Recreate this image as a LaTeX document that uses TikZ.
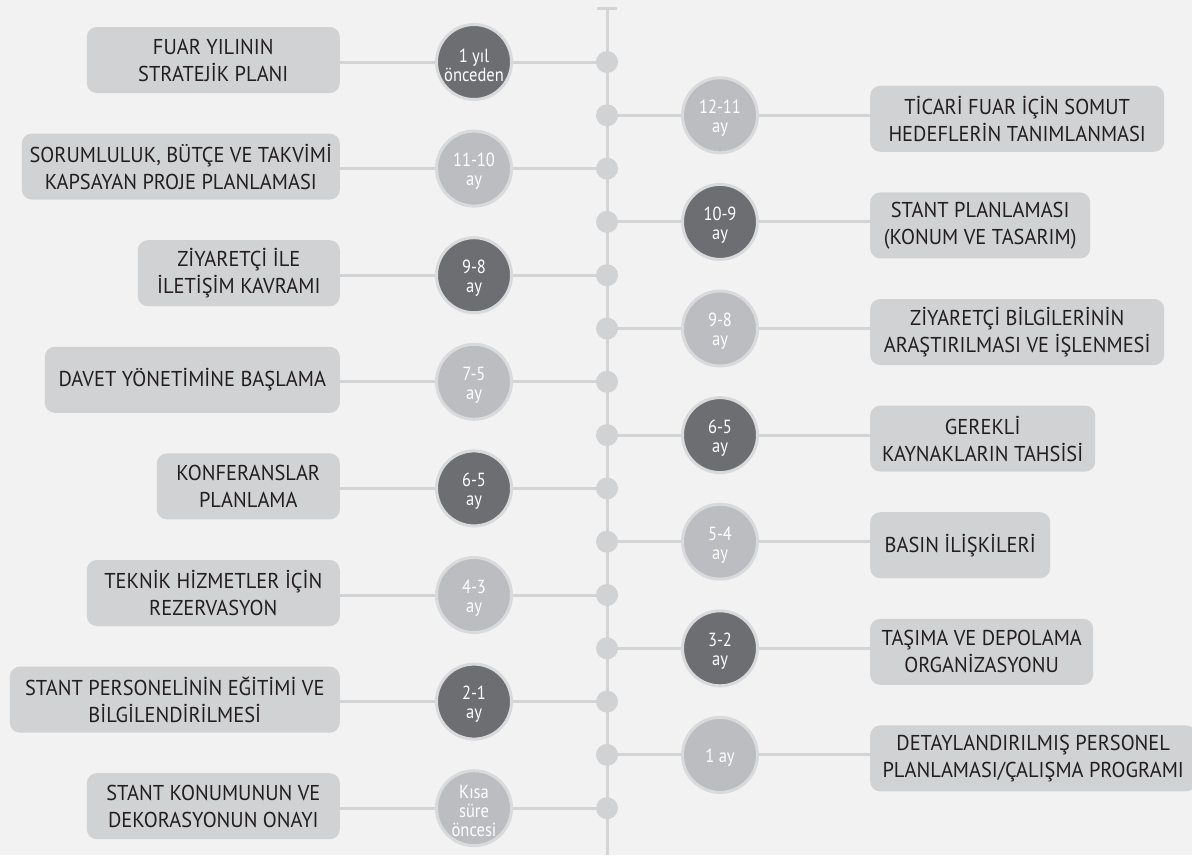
\documentclass[tikz,border=0pt]{standalone}
\usepackage{fontspec}
\setmainfont{PT Sans}[FakeStretch=0.95]
\newfontfamily\circfont{PT Sans}[FakeStretch=0.87]
\definecolor{bgc}{HTML}{F2F2F2}
\definecolor{boxc}{HTML}{D1D2D4}
\definecolor{darkc}{HTML}{6D6E71}
\definecolor{lightc}{HTML}{BCBDC0}
\definecolor{ringc}{HTML}{D9DADB}
\definecolor{linec}{HTML}{D3D4D6}
\definecolor{txtc}{HTML}{231F20}
\pgfdeclarelayer{bg}
\pgfdeclarelayer{lines}
\pgfsetlayers{bg,lines,main}
\tikzset{
  tbox/.style={rectangle, rounded corners=10pt, fill=boxc, minimum height=66pt, align=center,
    text=txtc, font=\fontsize{21.5pt}{27pt}\selectfont, inner sep=0pt},
  lbox/.style={tbox, anchor=east},
  rbox/.style={tbox, anchor=west},
  ctext/.style={align=center, text=white, font=\circfont\fontsize{19pt}{19pt}\selectfont, yshift=-3pt, inner sep=0pt},
  tcirc/.style={circle, draw=ringc, line width=3pt, minimum size=75pt, inner sep=0pt,
    label={[ctext]center:#1}},
  dcirc/.style={tcirc=#1, fill=darkc},
  lcirc/.style={tcirc=#1, fill=lightc},
  tdot/.style={circle, fill=boxc, minimum size=22pt, inner sep=0pt},
  conn/.style={draw=linec, line width=3pt},
}
\begin{document}
\begin{tikzpicture}[x=1pt,y=-1pt]
\begin{pgfonlayer}{bg}
\fill[bgc] (0,0) rectangle (1192,855);
\end{pgfonlayer}
\useasboundingbox (0,0) rectangle (1192,855);
% spine
\coordinate (top) at (607,8);
\coordinate (bot) at (607,855);
\coordinate (tl) at (597,8);
\coordinate (tr) at (617,8);
% left rows
\node[lbox, minimum width=253pt] (b1) at (340,60) {FUAR YILININ\\STRATEJİK PLANI};
\node[dcirc={1 yıl\\önceden}] (c1) at (474,62) {};
\node[tdot] (d1) at (607,62) {};
\node[lbox, minimum width=318pt] (b3) at (340,166.6) {SORUMLULUK, BÜTÇE VE TAKVİMİ\\KAPSAYAN PROJE PLANLAMASI};
\node[lcirc={11-10\\ay}] (c3) at (474,168.6) {};
\node[tdot] (d3) at (607,168.6) {};
\node[lbox, minimum width=202pt] (b5) at (340,273.2) {ZİYARETÇİ İLE\\İLETİŞİM KAVRAMI};
\node[dcirc={9-8\\ay}] (c5) at (474,275.2) {};
\node[tdot] (d5) at (607,275.2) {};
\node[lbox, minimum width=295pt] (b7) at (340,379.8) {DAVET YÖNETİMİNE BAŞLAMA};
\node[lcirc={7-5\\ay}] (c7) at (474,381.8) {};
\node[tdot] (d7) at (607,381.8) {};
\node[lbox, minimum width=183pt] (b9) at (340,486.4) {KONFERANSLAR\\PLANLAMA};
\node[dcirc={6-5\\ay}] (c9) at (474,488.4) {};
\node[tdot] (d9) at (607,488.4) {};
\node[lbox, minimum width=253pt] (b11) at (340,593) {TEKNİK HİZMETLER İÇİN\\REZERVASYON};
\node[lcirc={4-3\\ay}] (c11) at (474,595) {};
\node[tdot] (d11) at (607,595) {};
\node[lbox, minimum width=330pt] (b13) at (340,699.6) {STANT PERSONELİNİN EĞİTİMİ VE\\BİLGİLENDİRİLMESİ};
\node[dcirc={2-1\\ay}] (c13) at (474,701.6) {};
\node[tdot] (d13) at (607,701.6) {};
\node[lbox, minimum width=253pt] (b15) at (340,806.2) {STANT KONUMUNUN VE\\DEKORASYONUN ONAYI};
\node[lcirc={Kısa\\süre\\öncesi}] (c15) at (474,808.2) {};
\node[tdot] (d15) at (607,808.2) {};
% right rows
\node[tdot] (d2) at (607,115.3) {};
\node[lcirc={12-11\\ay}] (c2) at (720,115.3) {};
\node[rbox, minimum width=294pt] (b2) at (870,118.8) {TİCARİ FUAR İÇİN SOMUT\\HEDEFLERİN TANIMLANMASI};
\node[tdot] (d4) at (607,221.9) {};
\node[dcirc={10-9\\ay}] (c4) at (720,221.9) {};
\node[rbox, minimum width=220pt] (b4) at (870,225.4) {STANT PLANLAMASI\\(KONUM VE TASARIM)};
\node[tdot] (d6) at (607,328.5) {};
\node[lcirc={9-8\\ay}] (c6) at (720,328.5) {};
\node[rbox, minimum width=294pt] (b6) at (870,332) {ZİYARETÇİ BİLGİLERİNİN\\ARAŞTIRILMASI VE İŞLENMESİ};
\node[tdot] (d8) at (607,435.1) {};
\node[dcirc={6-5\\ay}] (c8) at (720,435.1) {};
\node[rbox, minimum width=225pt] (b8) at (870,438.6) {GEREKLİ\\KAYNAKLARIN TAHSİSİ};
\node[tdot] (d10) at (607,541.7) {};
\node[lcirc={5-4\\ay}] (c10) at (720,541.7) {};
\node[rbox, minimum width=180pt] (b10) at (870,545.2) {BASIN İLİŞKİLERİ};
\node[tdot] (d12) at (607,648.3) {};
\node[dcirc={3-2\\ay}] (c12) at (720,648.3) {};
\node[rbox, minimum width=223pt] (b12) at (870,651.8) {TAŞIMA VE DEPOLAMA\\ORGANİZASYONU};
\node[tdot] (d14) at (607,754.9) {};
\node[lcirc={1 ay}] (c14) at (720,754.9) {};
\node[rbox, minimum width=326pt] (b14) at (870,758.4) {DETAYLANDIRILMIŞ PERSONEL\\PLANLAMASI/ÇALIŞMA PROGRAMI};
\begin{pgfonlayer}{lines}
\draw[conn] (top) -- (bot);
\draw[conn] (tl) -- (tr);
\foreach \i in {1,3,5,7,9,11,13,15} {
  \draw[conn] (b\i.east |- c\i.west) -- (c\i.west);
  \draw[conn] (c\i.east) -- (d\i.center);
}
\foreach \i in {2,4,6,8,10,12,14} {
  \draw[conn] (d\i.center) -- (c\i.west);
  \draw[conn] (c\i.east) -- (c\i.east -| b\i.west);
}
\end{pgfonlayer}
\end{tikzpicture}
\end{document}
